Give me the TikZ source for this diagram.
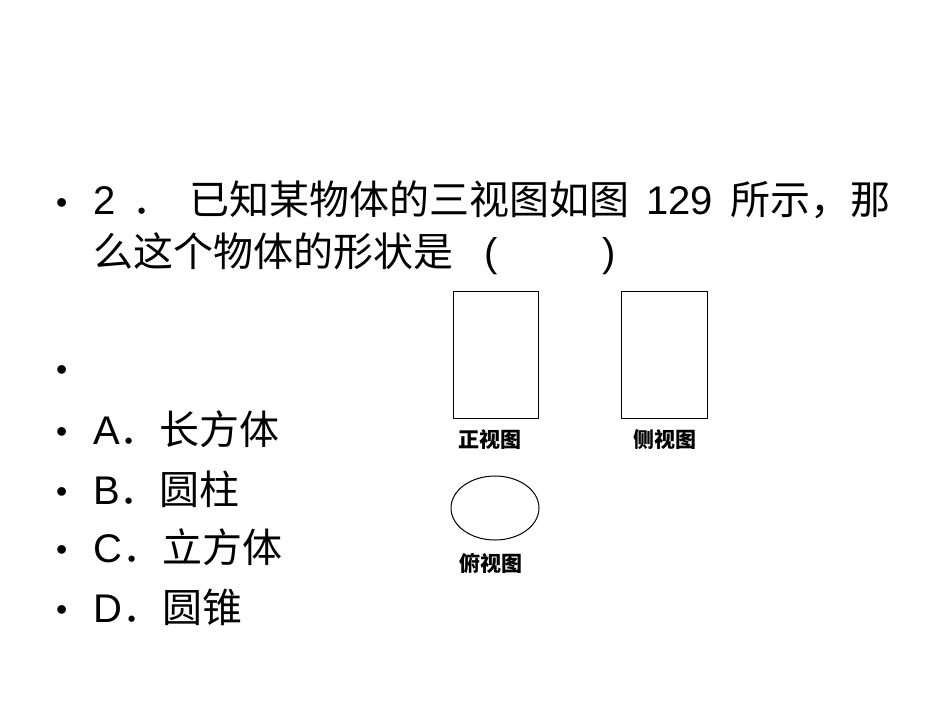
\documentclass[tikz,border=0pt]{standalone}
\usepackage{fontspec}
\setmainfont{Liberation Sans}
\newfontfamily\cjk{Noto Sans CJK SC}
\begin{document}
\begin{tikzpicture}[x=1pt,y=-1pt,
  txt/.style={anchor=base west,inner sep=0pt,font=\fontsize{40}{44}\selectfont},
  bul/.style={anchor=base west,inner sep=0pt,font=\fontsize{32}{36}\selectfont},
  lab/.style={inner sep=0pt,font=\cjk\bfseries\fontsize{21}{24}\selectfont},
  view/.style={draw,line width=1pt}]
\useasboundingbox (0,0) rectangle (950,713);
\fill[white] (0,0) rectangle (950,713);
\node[bul] (b1) at (56,213) {•};
\node[txt] (t1) at (93,214) {\hbox to 797pt{2\hfil{\cjk ．}\hfil{\cjk 已知某物体的三视图如图}\hfil 129\hfil{\cjk 所示，那}}};
\node[txt] (t2) at (93,266) {\cjk 么这个物体的形状是};
\node[txt] (p1) at (484,266) {(};
\node[txt] (p2) at (602,266) {)};
\node[bul] (b2) at (56,380) {•};
\node[bul] (b3) at (56,442) {•};
\node[txt] (ta) at (93,444) {A{\cjk ．长方体}};
\node[bul] (b4) at (56,502) {•};
\node[txt] (tb) at (93,504) {B{\cjk ．圆柱}};
\node[bul] (b5) at (56,560) {•};
\node[txt] (tc) at (93,562) {C{\cjk ．立方体}};
\node[bul] (b6) at (56,620) {•};
\node[txt] (td) at (93,622) {D{\cjk ．圆锥}};
\draw[view] (453,291) rectangle (538,418);
\draw[view] (621,291) rectangle (707,418);
\draw[view] (495,508) ellipse [x radius=44, y radius=32];
\node[lab] (l1) at (490,440) {正视图};
\node[lab] (l2) at (665,440) {侧视图};
\node[lab] (l3) at (491,563) {俯视图};
\end{tikzpicture}
\end{document}
